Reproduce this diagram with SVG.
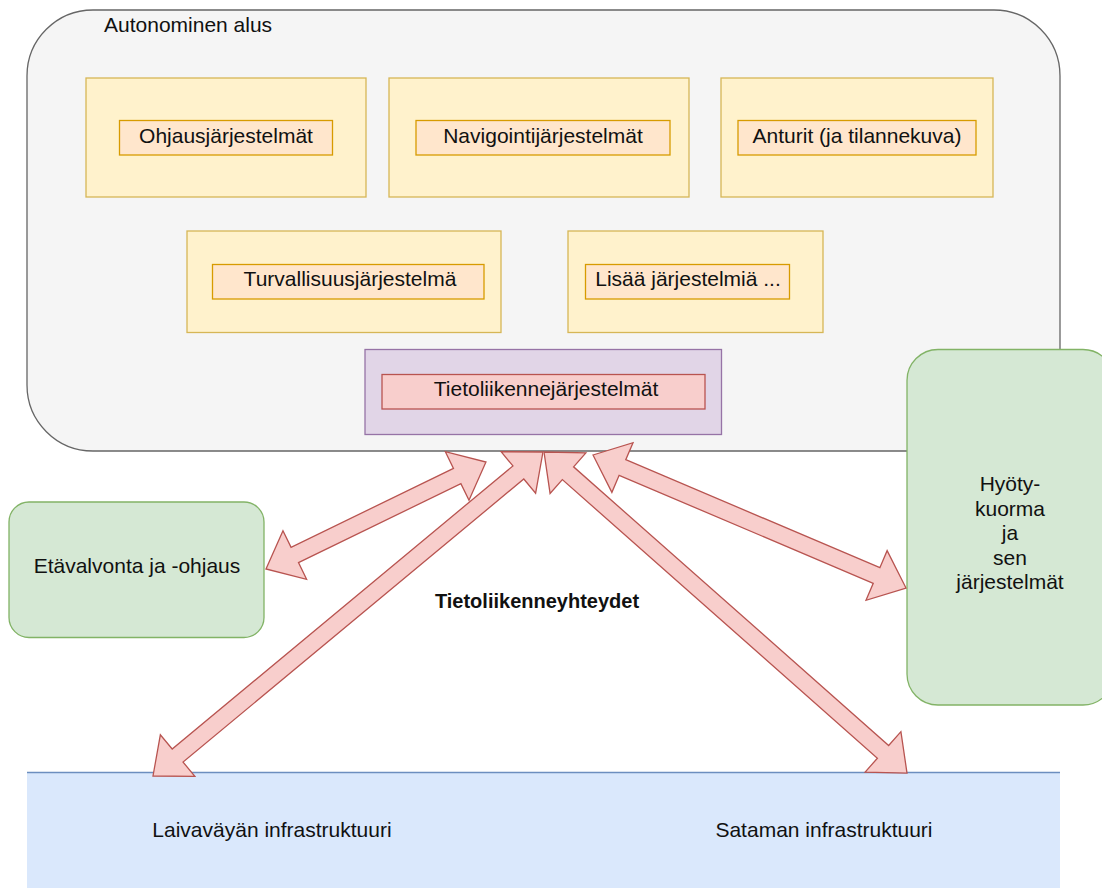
<svg xmlns="http://www.w3.org/2000/svg" width="1102" height="888" viewBox="0 0 1102 888">
  <style>
    text { font-family: "Liberation Sans", Arial, sans-serif; font-size: 21px; fill: #111; }
    .mid { text-anchor: middle; }
    .bold { font-weight: bold; font-size: 20px; }
    .ship { fill: #f5f5f5; stroke: #666666; stroke-width: 1.3; }
    .group { fill: #fff2cc; stroke: #d6b656; stroke-width: 1.3; }
    .item { fill: #ffe6cc; stroke: #d79b00; stroke-width: 1.3; }
    .comms { fill: #e1d5e7; stroke: #9673a6; stroke-width: 1.3; }
    .commsItem { fill: #f8cecc; stroke: #b85450; stroke-width: 1.3; }
    .ext { fill: #d5e8d4; stroke: #82b366; stroke-width: 1.3; }
    .infra { fill: #dae8fc; }
    .infraLine { stroke: #6c8ebf; stroke-width: 1.3; fill: none; }
    .flex { fill: #f8cecc; stroke: #b85450; stroke-width: 1.3; stroke-linejoin: miter; }
  </style>

  <!-- Ship container -->
  <g id="autonominen-alus">
    <rect class="ship" x="27" y="10" width="1033" height="441" rx="66" ry="66"/>
    <text x="104" y="32">Autonominen alus</text>
  </g>

  <g id="ohjaus">
    <rect class="group" x="86" y="78" width="280" height="119"/>
    <rect class="item" x="119.5" y="120.5" width="213" height="34.5"/>
    <text class="mid" x="226" y="143">Ohjausjärjestelmät</text>
  </g>

  <g id="navigointi">
    <rect class="group" x="389" y="78" width="300" height="119"/>
    <rect class="item" x="416" y="120.5" width="254" height="34.5"/>
    <text class="mid" x="543" y="143">Navigointijärjestelmät</text>
  </g>

  <g id="anturit">
    <rect class="group" x="721" y="78" width="272" height="119"/>
    <rect class="item" x="738" y="120.5" width="238" height="34.5"/>
    <text class="mid" x="857" y="143">Anturit (ja tilannekuva)</text>
  </g>

  <g id="turvallisuus">
    <rect class="group" x="187" y="231" width="314" height="101.5"/>
    <rect class="item" x="212.5" y="264.5" width="271.5" height="34.5"/>
    <text class="mid" x="350" y="286">Turvallisuusjärjestelmä</text>
  </g>

  <g id="lisaa">
    <rect class="group" x="568" y="231" width="255" height="101.5"/>
    <rect class="item" x="585.5" y="264.5" width="204" height="34.5"/>
    <text class="mid" x="688" y="286">Lisää järjestelmiä ...</text>
  </g>

  <g id="tietoliikenne">
    <rect class="comms" x="365" y="349.5" width="356.5" height="85"/>
    <rect class="commsItem" x="382" y="374.5" width="323" height="34.5"/>
    <text class="mid" x="546" y="396">Tietoliikennejärjestelmät</text>
  </g>

  <!-- Shore and payload parties -->
  <g id="etavalvonta">
    <rect class="ext" x="9" y="502" width="255" height="135.5" rx="20" ry="20"/>
    <text class="mid" x="137" y="573">Etävalvonta ja -ohjaus</text>
  </g>

  <g id="hyotykuorma">
    <rect class="ext" x="907" y="349.5" width="207" height="355.5" rx="31" ry="31"/>
    <text class="mid" x="1010" y="491">Hyöty-</text>
    <text class="mid" x="1010" y="516">kuorma</text>
    <text class="mid" x="1010" y="540">ja</text>
    <text class="mid" x="1010" y="565">sen</text>
    <text class="mid" x="1010" y="589">järjestelmät</text>
  </g>

  <g id="infrastruktuuri">
    <rect class="infra" x="27" y="772.5" width="1033" height="130"/>
    <line class="infraLine" x1="27" y1="772.5" x2="1060" y2="772.5"/>
    <text class="mid" x="272" y="837">Laivaväyän infrastruktuuri</text>
    <text class="mid" x="824" y="837">Sataman infrastruktuuri</text>
  </g>

  <!-- Double-headed flex arrows: local x axis runs from one tip to the other -->
  <g id="connectors">
    <polygon class="flex" transform="translate(266,569) rotate(-25.94)"
      points="0,0 32,-27 32,-8.5 212.6,-8.5 212.6,-27 244.6,0 212.6,27 212.6,8.5 32,8.5 32,27"/>
    <polygon class="flex" transform="translate(153,776) rotate(-39.72)"
      points="0,0 32,-27 32,-8.5 475,-8.5 475,-27 507,0 475,27 475,8.5 32,8.5 32,27"/>
    <polygon class="flex" transform="translate(544,452) rotate(41.49)"
      points="0,0 32,-27 32,-8.5 452.6,-8.5 452.6,-27 484.6,0 452.6,27 452.6,8.5 32,8.5 32,27"/>
    <polygon class="flex" transform="translate(593,455) rotate(23.02)"
      points="0,0 32,-27 32,-8.5 308.1,-8.5 308.1,-27 340.1,0 308.1,27 308.1,8.5 32,8.5 32,27"/>
    <text class="mid bold" x="537" y="608">Tietoliikenneyhteydet</text>
  </g>
</svg>
